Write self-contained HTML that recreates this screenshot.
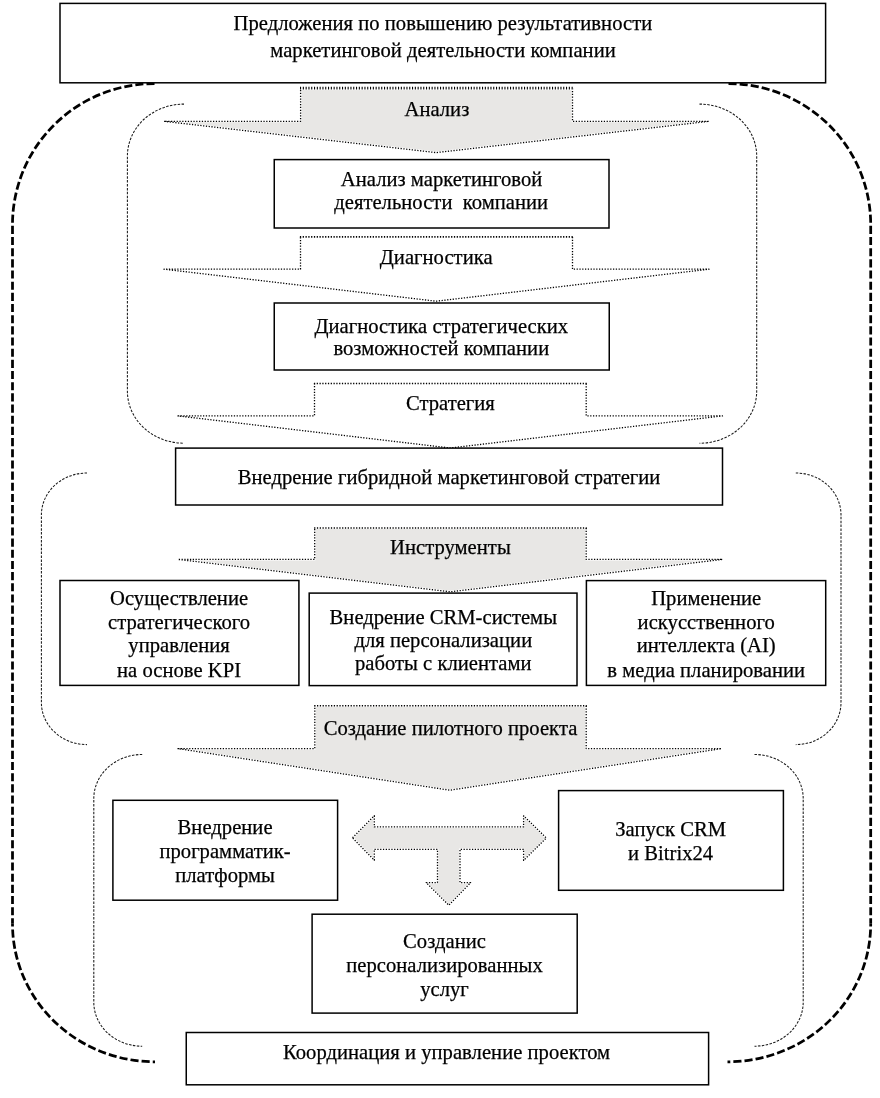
<!DOCTYPE html>
<html lang="ru">
<head>
<meta charset="utf-8">
<title>Предложения по повышению результативности маркетинговой деятельности компании</title>
<style>
html,body{margin:0;padding:0;background:#fff;}
body{width:880px;height:1098px;overflow:hidden;}
svg{display:block;will-change:transform;}
text{font-family:"Liberation Serif","Times New Roman",serif;font-size:20.6px;fill:#000;stroke:#000;stroke-width:0.25px;text-anchor:middle;white-space:pre;letter-spacing:0.03px;}
.box{fill:#fff;stroke:#000;stroke-width:1.5;}
.fillg{fill:#e8e7e5;stroke:none;}
.fillw{fill:#fff;stroke:none;}
.dot{fill:none;stroke:#000;stroke-width:1.3;stroke-dasharray:1.25 1.55;stroke-linejoin:round;}
.halo{fill:none;stroke:#fff;stroke-width:2.1;stroke-linejoin:round;}
.thin{fill:none;stroke:#1a1a1a;stroke-width:1.05;stroke-dasharray:2.5 1.4;}
.thick{fill:none;stroke:#000;stroke-width:2.75;stroke-dasharray:8.1 3.07;}
</style>
</head>
<body>
<svg width="880" height="1098" viewBox="0 0 880 1098">
<rect x="0" y="0" width="880" height="1098" fill="#fff"/>

<path class="thick" stroke-dashoffset="9.41" d="M12.5,224.5 A142.5,141 0 0 1 155,83.5"/>
<path class="thick" stroke-dashoffset="9.86" d="M12.5,224.5 L12.5,923.8"/>
<path class="thick" stroke-dashoffset="5.45" d="M12.5,923.8 A142.5,138 0 0 0 155,1061.8"/>
<path class="thick" stroke-dashoffset="9.41" d="M870.7,224.5 A143.2,141 0 0 0 727.5,83.5"/>
<path class="thick" stroke-dashoffset="9.86" d="M870.7,224.5 L870.7,923.8"/>
<path class="thick" stroke-dashoffset="5.45" d="M870.7,923.8 A143.2,138 0 0 1 727.5,1061.8"/>
<path class="thin" d="M184,104.1 A56.6,52 0 0 0 127.4,156.1 L127.4,391.2 A56.6,52 0 0 0 184,443.2"/>
<path class="thin" d="M699.5,104.1 A57.2,52 0 0 1 756.7,156.1 L756.7,391.2 A57.2,52 0 0 1 699.5,443.2"/>
<path class="thin" d="M87,473 A45.6,42 0 0 0 41.4,515 L41.4,702.6 A45.6,42 0 0 0 87,744.6"/>
<path class="thin" d="M795.8,473 A45.2,42 0 0 1 841.0,515 L841.0,702.6 A45.2,42 0 0 1 795.8,744.6"/>
<path class="thin" d="M142.2,754.5 A48.4,44 0 0 0 93.8,798.5 L93.8,1002.2 A48.4,44 0 0 0 142.2,1046.2"/>
<path class="thin" d="M754.5,754.5 A48.7,44 0 0 1 803.2,798.5 L803.2,1002.2 A48.7,44 0 0 1 754.5,1046.2"/>
<path class="fillg" d="M300.6,88.2 L572.5,88.2 L572.5,121.3 L709,121.3 L436.2,152.6 L164,121.3 L300.6,121.3 Z"/>
<path class="halo" d="M300.6,88.2 L572.5,88.2 L572.5,121.3 L709,121.3 L436.2,152.6 L164,121.3 L300.6,121.3 Z"/>
<path class="dot" d="M572.5,88.2 L572.5,121.3 L709,121.3 L436.2,152.6 L164,121.3 L300.6,121.3 L300.6,88.2"/>
<rect fill="#fff" x="299.95" y="86.85" width="273.20" height="3.20"/>
<path class="dot" style="stroke-width:2.7;stroke-dasharray:1.1 1.7" d="M300.0,88.2 L573.1,88.2"/>
<path class="fillw" d="M300.5,236.9 L572.5,236.9 L572.5,269.2 L709,269.2 L436.2,301.2 L164,269.2 L300.5,269.2 Z"/>
<path class="dot" d="M572.5,236.9 L572.5,269.2 L709,269.2 L436.2,301.2 L164,269.2 L300.5,269.2 L300.5,236.9"/>
<path class="dot" style="stroke-width:1.6" d="M299.9,236.9 L573.1,236.9"/>
<path class="fillw" d="M314.5,383.5 L586.2,383.5 L586.2,415.9 L722.5,415.9 L450.2,448.0 L178,415.9 L314.5,415.9 Z"/>
<path class="dot" d="M586.2,383.5 L586.2,415.9 L722.5,415.9 L450.2,448.0 L178,415.9 L314.5,415.9 L314.5,383.5"/>
<path class="dot" style="stroke-width:1.3" d="M313.9,383.5 L586.8,383.5"/>
<path class="fillg" d="M314.7,528.0 L586.2,528.0 L586.2,559.4 L722.5,559.4 L450.2,591.8 L178,559.4 L314.7,559.4 Z"/>
<path class="halo" d="M314.7,528.0 L586.2,528.0 L586.2,559.4 L722.5,559.4 L450.2,591.8 L178,559.4 L314.7,559.4 Z"/>
<path class="dot" d="M586.2,528.0 L586.2,559.4 L722.5,559.4 L450.2,591.8 L178,559.4 L314.7,559.4 L314.7,528.0"/>
<path class="dot" style="stroke-width:1.6" d="M314.1,528.0 L586.8,528.0"/>
<path class="fillg" d="M314.8,705.7 L586.2,705.7 L586.2,748.6 L721.5,748.6 L449.8,790.2 L178,748.6 L314.8,748.6 Z"/>
<path class="halo" d="M314.8,705.7 L586.2,705.7 L586.2,748.6 L721.5,748.6 L449.8,790.2 L178,748.6 L314.8,748.6 Z"/>
<path class="dot" d="M586.2,705.7 L586.2,748.6 L721.5,748.6 L449.8,790.2 L178,748.6 L314.8,748.6 L314.8,705.7"/>
<path class="dot" style="stroke-width:1.4" d="M314.2,705.7 L586.8,705.7"/>
<path class="fillg" d="M352.5,837.8 L374.3,815.8 L374.3,826.9 L523.6,826.9 L523.6,815.8 L546.3,838 L523.6,860.4 L523.6,849.3 L460,849.3 L460,882.6 L470.6,882.6 L448.8,905.2 L426.2,882.6 L437.5,882.6 L437.5,849.3 L374.3,849.3 L374.3,860.2 Z"/>
<path class="halo" d="M352.5,837.8 L374.3,815.8 L374.3,826.9 L523.6,826.9 L523.6,815.8 L546.3,838 L523.6,860.4 L523.6,849.3 L460,849.3 L460,882.6 L470.6,882.6 L448.8,905.2 L426.2,882.6 L437.5,882.6 L437.5,849.3 L374.3,849.3 L374.3,860.2 Z"/>
<path class="dot" d="M352.5,837.8 L374.3,815.8 L374.3,826.9 L523.6,826.9 L523.6,815.8 L546.3,838 L523.6,860.4 L523.6,849.3 L460,849.3 L460,882.6 L470.6,882.6 L448.8,905.2 L426.2,882.6 L437.5,882.6 L437.5,849.3 L374.3,849.3 L374.3,860.2 Z"/>
<rect class="box" x="60" y="3.4" width="765.60" height="79.40"/>
<rect class="box" x="274.25" y="159.6" width="334.75" height="68.40"/>
<rect class="box" x="274.25" y="303" width="335.00" height="67.00"/>
<rect class="box" x="175.6" y="448.1" width="546.90" height="56.90"/>
<rect class="box" x="60.0" y="580.5" width="238.90" height="104.90"/>
<rect class="box" x="309.2" y="593.1" width="267.80" height="92.50"/>
<rect class="box" x="586.4" y="580.6" width="239.30" height="104.80"/>
<rect class="box" x="112.9" y="800.3" width="224.70" height="99.90"/>
<rect class="box" x="558.6" y="790.6" width="224.80" height="99.70"/>
<rect class="box" x="312.1" y="914.2" width="265.10" height="98.90"/>
<rect class="box" x="186.25" y="1032.5" width="522.35" height="52.30"/>
<text x="442.9" y="29.75">Предложения по повышению результативности</text>
<text x="443.0" y="56.55">маркетинговой деятельности компании</text>
<text x="436.9" y="115.65">Анализ</text>
<text x="441.6" y="186.45">Анализ маркетинговой</text>
<text x="441.2" y="209.25">деятельности  компании</text>
<text x="436.2" y="263.65">Диагностика</text>
<text x="441.3" y="333.45">Диагностика стратегических</text>
<text x="441.3" y="355.45">возможностей компании</text>
<text x="450.4" y="410.45">Стратегия</text>
<text x="449.1" y="484.25">Внедрение гибридной маркетинговой стратегии</text>
<text x="450.4" y="554.15">Инструменты</text>
<text x="179.1" y="604.85">Осуществление</text>
<text x="179.1" y="628.75">стратегического</text>
<text x="179.1" y="652.45">управления</text>
<text x="179.1" y="676.65">на основе KPI</text>
<text x="443.3" y="623.75">Внедрение CRM-системы</text>
<text x="443.3" y="647.15">для персонализации</text>
<text x="443.3" y="670.25">работы с клиентами</text>
<text x="706.2" y="604.85">Применение</text>
<text x="706.2" y="628.75">искусственного</text>
<text x="706.2" y="652.45">интеллекта (AI)</text>
<text x="706.2" y="676.65">в медиа планировании</text>
<text x="450.5" y="734.55">Создание пилотного проекта</text>
<text x="225.1" y="834.25">Внедрение</text>
<text x="225.1" y="858.05">программатик-</text>
<text x="225.1" y="881.85">платформы</text>
<text x="670.6" y="836.25">Запуск CRM</text>
<text x="670.6" y="860.35">и Bitrix24</text>
<text x="444.5" y="948.25">Созданис</text>
<text x="444.5" y="971.95">персонализированных</text>
<text x="444.5" y="995.95">услуг</text>
<text x="446.6" y="1059.35">Координация и управление проектом</text>
</svg>
</body>
</html>
